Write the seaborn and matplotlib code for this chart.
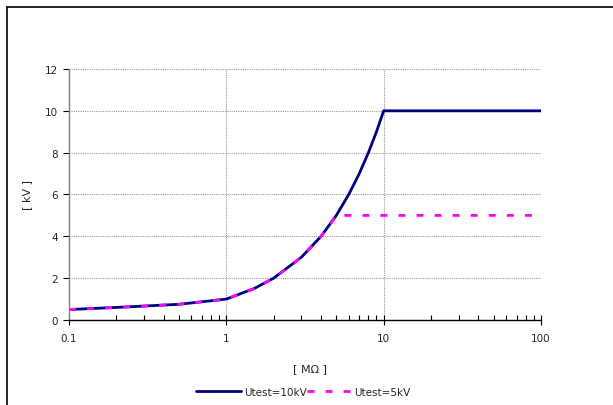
import numpy as np
import pandas as pd
import matplotlib
matplotlib.use("Agg")
import matplotlib.pyplot as plt
import seaborn as sns
from matplotlib.lines import Line2D
from matplotlib.ticker import FixedLocator, FixedFormatter, LogLocator, NullFormatter

# values
r_10kv = [0.1, 0.2, 0.5, 1, 1.5, 2, 3, 4, 5, 6, 7, 8, 9, 10, 100]
u_10kv = [0.5, 0.6, 0.75, 1, 1.5, 2, 3, 4, 5, 6, 7, 8, 9, 10, 10]
r_5kv = [0.1, 0.2, 0.5, 1, 1.5, 2, 3, 4, 5, 100]
u_5kv = [0.5, 0.6, 0.75, 1, 1.5, 2, 3, 4, 5, 5]
series_names = ["Utest=10kV", "Utest=5kV"]
x_ticks = [0.1, 1, 10, 100]
x_tick_labels = ["0.1", "1", "10", "100"]
y_ticks = [0, 2, 4, 6, 8, 10, 12]

df10 = pd.DataFrame({"R": r_10kv, "U": u_10kv})
df5 = pd.DataFrame({"R": r_5kv, "U": u_5kv})

sns.set_theme(style="white")
plt.rcParams["font.family"] = ["DejaVu Sans"]

fig = plt.figure(figsize=(6.13, 4.06), dpi=100)
ax = fig.add_axes([0.1126, 0.2094, 0.8825 - 0.1126, 0.8276 - 0.2094])

navy = "#000080"
magenta = "#FF00FF"

sns.lineplot(data=df10, x="R", y="U", ax=ax, color=navy, linewidth=2.0,
             estimator=None, sort=False, label=series_names[0])
sns.lineplot(data=df5, x="R", y="U", ax=ax, color=magenta, linewidth=2.0,
             estimator=None, sort=False, label=series_names[1],
             dashes=False)
ax.lines[1].set_dashes([2.5, 4.0])

ax.set_xscale("log")
ax.set_xlim(0.1, 100)
ax.set_ylim(0, 12)
ax.xaxis.set_major_locator(FixedLocator(x_ticks))
ax.xaxis.set_major_formatter(FixedFormatter(x_tick_labels))
ax.xaxis.set_minor_locator(LogLocator(base=10, subs=np.arange(2, 10)))
ax.xaxis.set_minor_formatter(NullFormatter())
ax.set_yticks(y_ticks)

ax.grid(True, which="major", color="#9a9a9a", linestyle=(0, (1, 1)), linewidth=0.8)
ax.set_axisbelow(True)

for s in ["top", "right"]:
    ax.spines[s].set_visible(False)
ax.spines["left"].set_color("#808080")
ax.spines["bottom"].set_color("black")
ax.spines["left"].set_linewidth(1.0)
ax.spines["bottom"].set_linewidth(1.0)

ax.tick_params(axis="y", which="major", direction="out", length=4, width=0.8,
               color="black", labelsize=7.5, pad=4, left=True)
ax.tick_params(axis="x", which="major", direction="inout", length=7, width=0.8,
               color="black", labelsize=7.5, pad=6, bottom=True)
ax.tick_params(axis="x", which="minor", direction="in", length=3.5, width=0.8,
               color="black", bottom=True)

ax.set_xlabel("[ MΩ ]", fontsize=8)
ax.set_ylabel("[ kV ]", fontsize=8)
ax.xaxis.set_label_coords(0.51, -0.17)
ax.yaxis.set_label_coords(-0.078, 0.5)

ax.get_legend().remove()
handles = [Line2D([], [], color=navy, linewidth=2.0),
           Line2D([], [], color=magenta, linewidth=2.0, dashes=[2.5, 4.0])]
fig.legend(handles, series_names, loc="center", bbox_to_anchor=(0.495, 0.033),
           ncol=2, frameon=False, fontsize=7.5, handlelength=4.3,
           handletextpad=0.3, columnspacing=0.0)

# outer chart border (partly cut off at right and bottom, as in the reference)
fig.add_artist(Line2D([6.5 / 613, 6.5 / 613], [0, 1 - 7.5 / 406],
                      transform=fig.transFigure, color="black", linewidth=1.2))
fig.add_artist(Line2D([6.5 / 613, 1], [1 - 7.5 / 406, 1 - 7.5 / 406],
                      transform=fig.transFigure, color="black", linewidth=1.2))

fig.savefig("out.png", dpi=100)
